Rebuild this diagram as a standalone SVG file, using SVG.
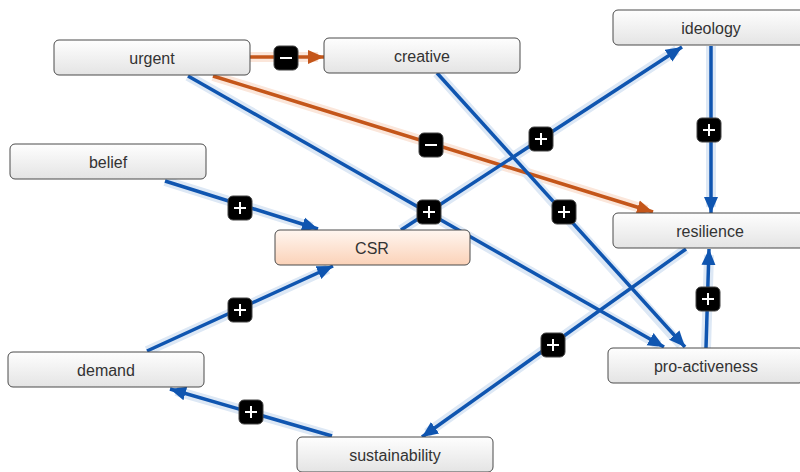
<svg xmlns="http://www.w3.org/2000/svg" width="800" height="472" viewBox="0 0 800 472">
  <defs>
    <linearGradient id="boxFill" x1="0" y1="0" x2="0" y2="1">
      <stop offset="0" stop-color="#fefefe"/>
      <stop offset="1" stop-color="#e4e4e4"/>
    </linearGradient>
    <linearGradient id="csrFill" x1="0" y1="0" x2="0" y2="1">
      <stop offset="0" stop-color="#fff6f0"/>
      <stop offset="1" stop-color="#fbd2b8"/>
    </linearGradient>
    <marker id="arrBlue" markerUnits="userSpaceOnUse" markerWidth="18" markerHeight="16" refX="16" refY="8" orient="auto">
      <path d="M0,1 L16,8 L0,15 Z" fill="#0f55b0"/>
    </marker>
    <marker id="arrOrange" markerUnits="userSpaceOnUse" markerWidth="18" markerHeight="16" refX="16" refY="8" orient="auto">
      <path d="M0,1 L16,8 L0,15 Z" fill="#c4561a"/>
    </marker>
  </defs>
  <style>
    .node rect { fill: url(#boxFill); stroke: #4a4a4a; stroke-width: 1; }
    #csr rect { fill: url(#csrFill); }
    .node text { font-family: "Liberation Sans", Arial, sans-serif; font-size: 16px; fill: #333; text-anchor: middle; }
    .halo { fill: none; stroke: #dde8f5; stroke-width: 10; stroke-linecap: butt; }
    .halo.o { stroke: #fbe6da; }
    .edge { fill: none; stroke: #0f55b0; stroke-width: 3.5; marker-end: url(#arrBlue); }
    .edge.o { stroke: #c4561a; marker-end: url(#arrOrange); }
    .badge rect { fill: #000; stroke: #444; stroke-width: 1; }
    .badge path { stroke: #fff; stroke-width: 2; fill: none; }
  </style>

  <!-- connectors -->
  <g id="connectors">
    <g class="halos">
      <path class="halo o" d="M250,57 L318,57"/>
      <path class="halo o" d="M213,76 L647,210"/>
      <path class="halo" d="M188,76 L659,345"/>
      <path class="halo" d="M437,73 L681,345"/>
      <path class="halo" d="M165,181 L312,227"/>
      <path class="halo" d="M401,230 L677,50"/>
      <path class="halo" d="M711,46 L711,207"/>
      <path class="halo" d="M147,351 L328,269"/>
      <path class="halo" d="M332,436 L176,391"/>
      <path class="halo" d="M686,249 L427,433"/>
      <path class="halo" d="M706,348 L709,255"/>
    </g>
    <path class="edge o" d="M250,57 L324,57"/>
    <path class="edge o" d="M213,76 L653,212"/>
    <path class="edge" d="M188,76 L664,347"/>
    <path class="edge" d="M437,73 L685,347"/>
    <path class="edge" d="M165,181 L318,229"/>
    <path class="edge" d="M401,230 L682,47"/>
    <path class="edge" d="M711,46 L711,213"/>
    <path class="edge" d="M147,351 L333,266"/>
    <path class="edge" d="M332,436 L170,389"/>
    <path class="edge" d="M686,249 L422,437"/>
    <path class="edge" d="M706,348 L709,249"/>

    <!-- polarity badges -->
    <g class="badge"><rect x="274" y="46" width="24" height="24" rx="5"/><path d="M280,58 H292"/></g>
    <g class="badge"><rect x="419" y="133" width="24" height="24" rx="5"/><path d="M425,145 H437"/></g>
    <g class="badge"><rect x="417" y="200" width="24" height="24" rx="5"/><path d="M423,212 H435 M429,206 V218"/></g>
    <g class="badge"><rect x="552" y="200" width="24" height="24" rx="5"/><path d="M558,212 H570 M564,206 V218"/></g>
    <g class="badge"><rect x="228" y="196" width="24" height="24" rx="5"/><path d="M234,208 H246 M240,202 V214"/></g>
    <g class="badge"><rect x="529" y="127" width="24" height="24" rx="5"/><path d="M535,139 H547 M541,133 V145"/></g>
    <g class="badge"><rect x="697" y="118" width="24" height="24" rx="5"/><path d="M703,130 H715 M709,124 V136"/></g>
    <g class="badge"><rect x="228" y="298" width="24" height="24" rx="5"/><path d="M234,310 H246 M240,304 V316"/></g>
    <g class="badge"><rect x="239" y="400" width="24" height="24" rx="5"/><path d="M245,412 H257 M251,406 V418"/></g>
    <g class="badge"><rect x="541" y="333" width="24" height="24" rx="5"/><path d="M547,345 H559 M553,339 V351"/></g>
    <g class="badge"><rect x="696" y="287" width="24" height="24" rx="5"/><path d="M702,299 H714 M708,293 V305"/></g>
  </g>

  <!-- nodes -->
  <g id="urgent" class="node"><rect x="54" y="40" width="196" height="35" rx="5"/><text x="152" y="64">urgent</text></g>
  <g id="creative" class="node"><rect x="324" y="38" width="196" height="35" rx="5"/><text x="422" y="62">creative</text></g>
  <g id="ideology" class="node"><rect x="613" y="10" width="196" height="35" rx="5"/><text x="711" y="34">ideology</text></g>
  <g id="belief" class="node"><rect x="10" y="144" width="196" height="35" rx="5"/><text x="108" y="168">belief</text></g>
  <g id="csr" class="node"><rect x="275" y="230" width="195" height="35" rx="5"/><text x="372" y="254">CSR</text></g>
  <g id="resilience" class="node"><rect x="613" y="213" width="196" height="35" rx="5"/><text x="710" y="237">resilience</text></g>
  <g id="demand" class="node"><rect x="8" y="352" width="196" height="35" rx="5"/><text x="106" y="376">demand</text></g>
  <g id="pro-activeness" class="node"><rect x="608" y="348" width="196" height="35" rx="5"/><text x="706" y="372">pro-activeness</text></g>
  <g id="sustainability" class="node"><rect x="297" y="437" width="196" height="35" rx="5"/><text x="395" y="461">sustainability</text></g>
</svg>
